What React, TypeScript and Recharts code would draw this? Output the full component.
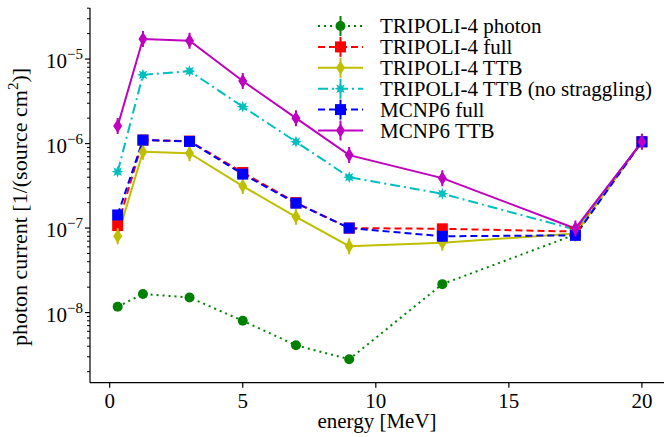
import React from 'react';
import { LineChart, Line, XAxis, YAxis } from 'recharts';

const energy = [0.3, 1.25, 3, 5, 7, 9, 12.5, 17.5, 20];
const t4Photon = [1.17e-8, 1.66e-8, 1.51e-8, 8.0e-9, 4.1e-9, 2.8e-9, 2.17e-8, 8.4e-8, 1.05e-6];
const t4Full = [1.07e-7, 1.1e-6, 1.07e-6, 4.55e-7, 2.0e-7, 1.0e-7, 9.8e-8, 9.1e-8, 1.05e-6];
const t4Ttb = [8.0e-8, 8.0e-7, 7.7e-7, 3.14e-7, 1.36e-7, 6.1e-8, 6.7e-8, 8.6e-8, 1.05e-6];
const t4TtbNoStrag = [4.65e-7, 6.5e-6, 7.2e-6, 2.73e-6, 1.05e-6, 4.0e-7, 2.55e-7, 9.6e-8, 1.05e-6];
const mcnpFull = [1.43e-7, 1.1e-6, 1.06e-6, 4.35e-7, 1.97e-7, 1.0e-7, 8.0e-8, 8.2e-8, 1.05e-6];
const mcnpTtb = [1.61e-6, 1.73e-5, 1.65e-5, 5.5e-6, 2.0e-6, 7.3e-7, 3.9e-7, 9.9e-8, 1.05e-6];

const xTicks = [0, 5, 10, 15, 20];
const majorExp = [-8, -7, -6, -5];

const FONT = "'Liberation Serif', Tinos, 'Nimbus Roman', 'DejaVu Serif', serif";
const FS = 21;
const txt: React.CSSProperties = { fontFamily: FONT, fontSize: FS };

type Shape = 'circle' | 'square' | 'diamond' | 'star';

interface SeriesDef {
  key: string;
  name: string;
  values: number[];
  color: string;
  dash?: string;
  shape: Shape;
}

const series: SeriesDef[] = [
  { key: 'p', name: 'TRIPOLI-4 photon', values: t4Photon, color: '#008000', dash: '2 4', shape: 'circle' },
  { key: 'f', name: 'TRIPOLI-4 full', values: t4Full, color: '#ff0000', dash: '7 4', shape: 'square' },
  { key: 't', name: 'TRIPOLI-4 TTB', values: t4Ttb, color: '#bfbf00', shape: 'diamond' },
  { key: 'n', name: 'TRIPOLI-4 TTB (no straggling)', values: t4TtbNoStrag, color: '#00bfbf', dash: '10 4 2 4', shape: 'star' },
  { key: 'm', name: 'MCNP6 full', values: mcnpFull, color: '#0000ff', dash: '7 4', shape: 'square' },
  { key: 'mt', name: 'MCNP6 TTB', values: mcnpTtb, color: '#bf00bf', shape: 'diamond' },
];

const data = energy.map((e, i) => {
  const row: Record<string, number> = { energy: e };
  series.forEach((s) => { row[s.key] = s.values[i]; });
  return row;
});

// minor ticks for the log axis
const minorTicks: number[] = [];
[-9, -8, -7, -6, -5].forEach((k) => {
  for (let m = 2; m <= 9; m++) minorTicks.push(m * Math.pow(10, k));
});
const yTicks = [...majorExp.map((k) => Math.pow(10, k)), ...minorTicks].filter((v) => v > 1.48e-9 && v < 4.02e-5);

const Marker = ({ cx, cy, color, shape, bar }: { cx: number; cy: number; color: string; shape: Shape; bar?: number }) => {
  const b = bar ?? 0;
  const whisker = b > 0 ? <line x1={cx} x2={cx} y1={cy - b} y2={cy + b} stroke={color} strokeWidth={2} /> : null;
  if (shape === 'circle') return <g>{whisker}<circle cx={cx} cy={cy} r={5} fill={color} /></g>;
  if (shape === 'square') return <g>{whisker}<rect x={cx - 5.5} y={cy - 5.5} width={11} height={11} fill={color} /></g>;
  if (shape === 'diamond')
    return (
      <g>
        {whisker}
        <polygon points={`${cx},${cy - 7} ${cx + 4.5},${cy} ${cx},${cy + 7} ${cx - 4.5},${cy}`} fill={color} />
      </g>
    );
  const pts: string[] = [];
  for (let i = 0; i < 16; i++) {
    const a = (i * Math.PI) / 8;
    const r = i % 2 === 0 ? 6 : 3;
    pts.push(`${cx + r * Math.sin(a)},${cy - r * Math.cos(a)}`);
  }
  return <g>{whisker}<polygon points={pts.join(' ')} fill={color} /></g>;
};

const YTick = (props: any) => {
  const { y, payload } = props;
  const v: number = payload.value;
  const exp = Math.round(Math.log10(v));
  const isMajor = Math.abs(Math.log10(v) - exp) < 1e-6;
  if (!isMajor) return <line x1={90} x2={87} y1={y} y2={y} stroke="#000" strokeWidth={1} />;
  return (
    <g>
      <line x1={90} x2={85} y1={y} y2={y} stroke="#000" strokeWidth={1.2} />
      <text x={83} y={y + 9} textAnchor="end" style={txt} fill="#000">
        <tspan>10</tspan>
        <tspan style={{ fontSize: 15 }} dy={-9}>{'\u2212' + Math.abs(exp)}</tspan>
      </text>
    </g>
  );
};

const XTick = (props: any) => {
  const { x, payload } = props;
  return (
    <g>
      <line x1={x} x2={x} y1={382.7} y2={387.7} stroke="#000" strokeWidth={1.2} />
      <text x={x} y={408} textAnchor="middle" style={txt} fill="#000">
        {payload.value}
      </text>
    </g>
  );
};

const Overlay = () => (
  <svg width={664} height={437} style={{ position: 'absolute', left: 0, top: 0, pointerEvents: 'none' }}>
    {series.map((s, i) => {
      const y = 26 + i * 20.9;
      return (
        <g key={s.key}>
          <line x1={318} x2={363} y1={y} y2={y} stroke={s.color} strokeWidth={2} strokeDasharray={s.dash} />
          <Marker cx={340.5} cy={y} color={s.color} shape={s.shape} bar={10} />
          <text x={380} y={y + 7} style={txt} fill="#000">
            {s.name}
          </text>
        </g>
      );
    })}
    <text x={377} y={428} textAnchor="middle" style={txt} fill="#000">energy [MeV]</text>
    <text transform="translate(27,207) rotate(-90)" textAnchor="middle" style={{ ...txt, fontSize: 22 }} fill="#000">
      <tspan>photon current [1/(source cm</tspan>
      <tspan style={{ fontSize: 15 }} dy={-9}>2</tspan>
      <tspan dy={9}>)]</tspan>
    </text>
  </svg>
);

export default function App() {
  return (
    <div style={{ position: 'absolute', left: 0, top: 0, width: 664, height: 437, overflow: 'hidden', background: '#fff', fontFamily: FONT }}>
      <LineChart width={664} height={437} data={data} margin={{ top: 8, right: 0, bottom: 0, left: 0 }}>
        <XAxis
          xAxisId="top"
          orientation="top"
          dataKey="energy"
          type="number"
          domain={[-0.74, 20.83]}
          allowDataOverflow
          height={0}
          tick={false}
          tickLine={false}
          axisLine={{ stroke: '#000', strokeWidth: 1.2 }}
        />
        <XAxis
          dataKey="energy"
          type="number"
          domain={[-0.74, 20.83]}
          allowDataOverflow
          ticks={xTicks}
          height={54.3}
          tick={<XTick />}
          tickLine={false}
          axisLine={{ stroke: '#000', strokeWidth: 1.2 }}
        />
        <YAxis
          scale="log"
          domain={[1.48e-9, 4.02e-5]}
          allowDataOverflow
          ticks={yTicks}
          interval={0}
          width={90}
          tick={<YTick />}
          tickLine={false}
          axisLine={{ stroke: '#000', strokeWidth: 1.2 }}
        />
        {series.map((s) => (
          <Line
            key={s.key}
            dataKey={s.key}
            stroke={s.color}
            strokeWidth={2}
            strokeDasharray={s.dash}
            type="linear"
            isAnimationActive={false}
            dot={(p: any) => <Marker key={`${s.key}-${p.index}`} cx={p.cx} cy={p.cy} color={s.color} shape={s.shape} bar={s.shape === 'diamond' ? 8 : 0} />}
            activeDot={false}
          />
        ))}
      </LineChart>
      <Overlay />
    </div>
  );
}
